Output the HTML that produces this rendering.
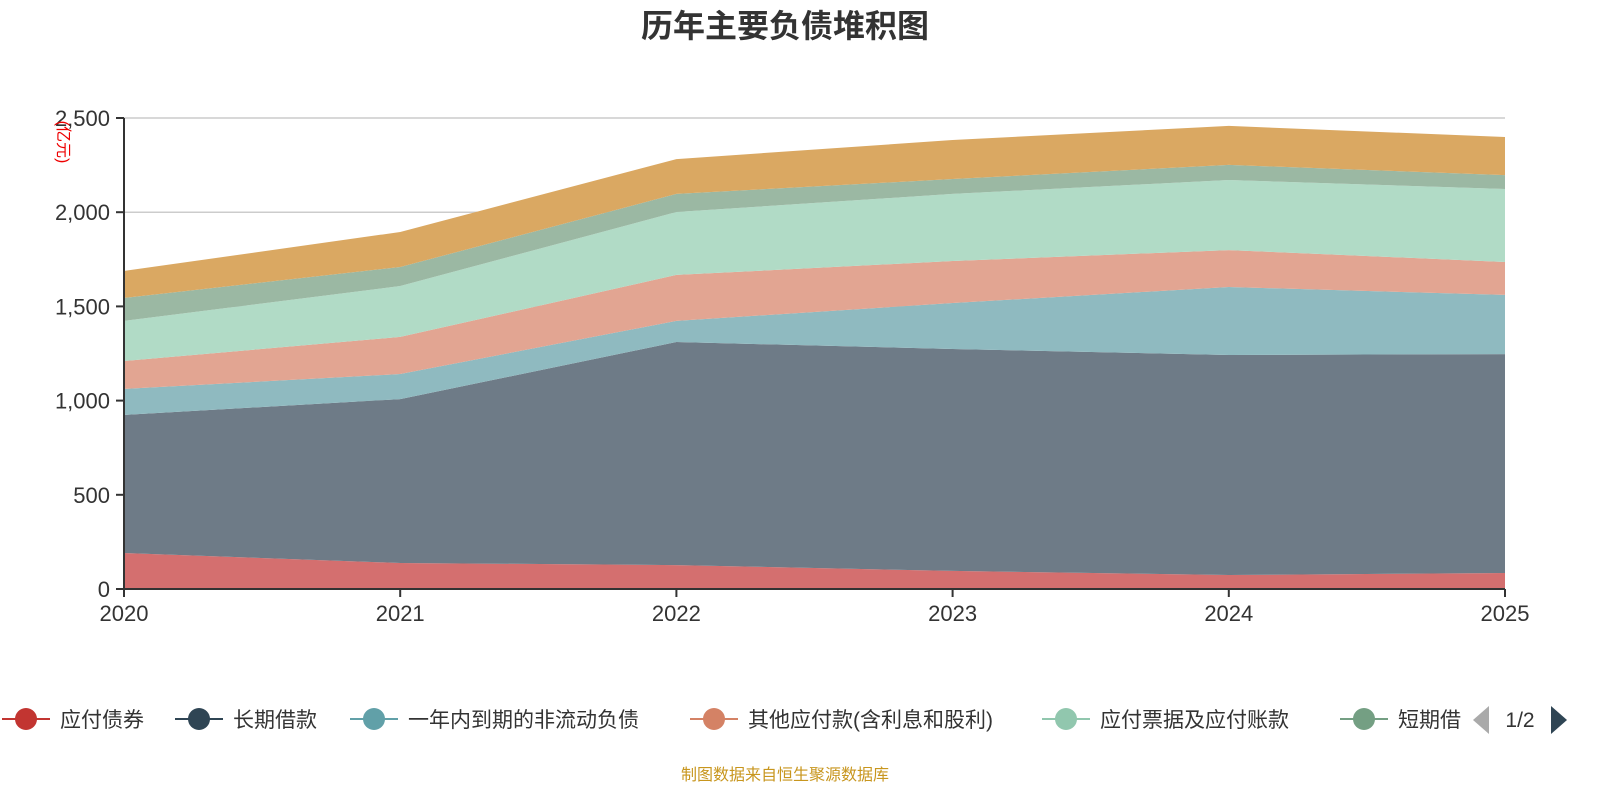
<!DOCTYPE html>
<html><head><meta charset="utf-8"><style>
body{margin:0;background:#fff;font-family:"Liberation Sans","Noto Sans CJK SC",sans-serif;}
svg text{font-family:"Liberation Sans","Noto Sans CJK SC",sans-serif;}
</style></head><body>
<svg id="c" width="1600" height="800" viewBox="0 0 1600 800">
<text x="785" y="37" text-anchor="middle" font-size="32" font-weight="bold" fill="#333">历年主要负债堆积图</text>
<g id="grid"></g><g id="areas"></g><g id="axes"></g>
<text transform="translate(58,142) rotate(90)" text-anchor="middle" font-size="16" fill="#e00">(亿元)</text>
<g id="legend"></g>
<text x="785" y="780" text-anchor="middle" font-size="16" fill="#c8961e">制图数据来自恒生聚源数据库</text>
</svg>
<script>
const years=["2020","2021","2022","2023","2024","2025"];
const yTicks=[0,500,1000,1500,2000,2500];
const seriesNames=["应付债券","长期借款","一年内到期的非流动负债","其他应付款(含利息和股利)","应付票据及应付账款","短期借款","其他"];
const s1=[191,138,127,96,74,85];
const s2=[733,870,1184,1178,1168,1162];
const s3=[138,133,112,244,361,314];
const s4=[148,197,244,223,196,175];
const s5=[213,270,334,356,372,387];
const s6=[122,101,96,79,80,74];
const s7=[143,186,185,207,207,202];
const series=[s1,s2,s3,s4,s5,s6,s7];
const fills=["#d46f6f","#6e7b87","#8fbac0","#e2a592","#b1dbc6","#9bb8a3","#daa862"];
const legendColors=["#c23531","#2f4554","#61a0a8","#d48265","#91c7ae","#749f83"];
const NS="http://www.w3.org/2000/svg";
const X0=124,X1=1505,Y0=589,Y1=118,YMAX=2500;
const xS=i=>X0+(X1-X0)*i/(years.length-1);
const yS=v=>Y0-(Y0-Y1)*v/YMAX;
function mk(tag,attrs,parent){const e=document.createElementNS(NS,tag);for(const k in attrs)e.setAttribute(k,attrs[k]);parent.appendChild(e);return e;}
const grid=document.getElementById('grid'),areas=document.getElementById('areas'),axes=document.getElementById('axes'),legend=document.getElementById('legend');
yTicks.forEach(t=>{
 if(t>0){const l=mk('line',{x1:X0,x2:X1,y1:yS(t),y2:yS(t),stroke:'#ccc','stroke-width':1.5},grid);
 
 }
 const tk=mk('line',{x1:X0-8,x2:X0,y1:yS(t),y2:yS(t),stroke:'#333','stroke-width':2},axes);
 
 
 const tx=mk('text',{x:X0-14,y:yS(t)+8,'text-anchor':'end','font-size':22,fill:'#333'},axes);
 tx.textContent=t.toLocaleString('en-US');
 
 
});
let base=years.map(()=>0);
series.forEach((s,si)=>{
 const top=s.map((v,i)=>base[i]+v);
 let d='M'+top.map((v,i)=>xS(i)+','+yS(v)).join(' L');
 for(let i=years.length-1;i>=0;i--)d+=' L'+xS(i)+','+yS(base[i]);
 const p=mk('path',{d:d+'Z',fill:fills[si],stroke:'none'},areas);
 
 
 base=top;
});
const ax=mk('line',{x1:X0,x2:X0,y1:Y1,y2:Y0,stroke:'#333','stroke-width':2},axes);


const bx=mk('line',{x1:X0,x2:X1,y1:Y0,y2:Y0,stroke:'#333','stroke-width':2},axes);


years.forEach((y,i)=>{
 const tk=mk('line',{x1:xS(i),x2:xS(i),y1:Y0,y2:Y0+8,stroke:'#333','stroke-width':2},axes);
 
 
 const tx=mk('text',{x:xS(i),y:Y0+32,'text-anchor':'middle','font-size':22,fill:'#333'},axes);
 tx.textContent=y;
 
 
});
const lx=[2,175,350,690,1042,1340];
legendColors.forEach((c,i)=>{
 const g=mk('g',{},legend);
 
 
 mk('line',{x1:lx[i],x2:lx[i]+48,y1:719,y2:719,stroke:c,'stroke-width':2},g);
 mk('circle',{cx:lx[i]+24,cy:719,r:11,fill:c},g);
 const t=mk('text',{x:lx[i]+58,y:727,'font-size':21,fill:'#333'},g);
 t.textContent=i==5?'短期借':seriesNames[i];
});
const pg=mk('g',{},legend);


mk('path',{d:'M1489,706 L1489,734 L1473,720Z',fill:'#aaa'},pg);
const pt=mk('text',{x:1520,y:727,'text-anchor':'middle','font-size':21,fill:'#333'},pg);
pt.textContent='1/2';
mk('path',{d:'M1551,706 L1551,734 L1567,720Z',fill:'#2f4554'},pg);
</script>
</body></html>
